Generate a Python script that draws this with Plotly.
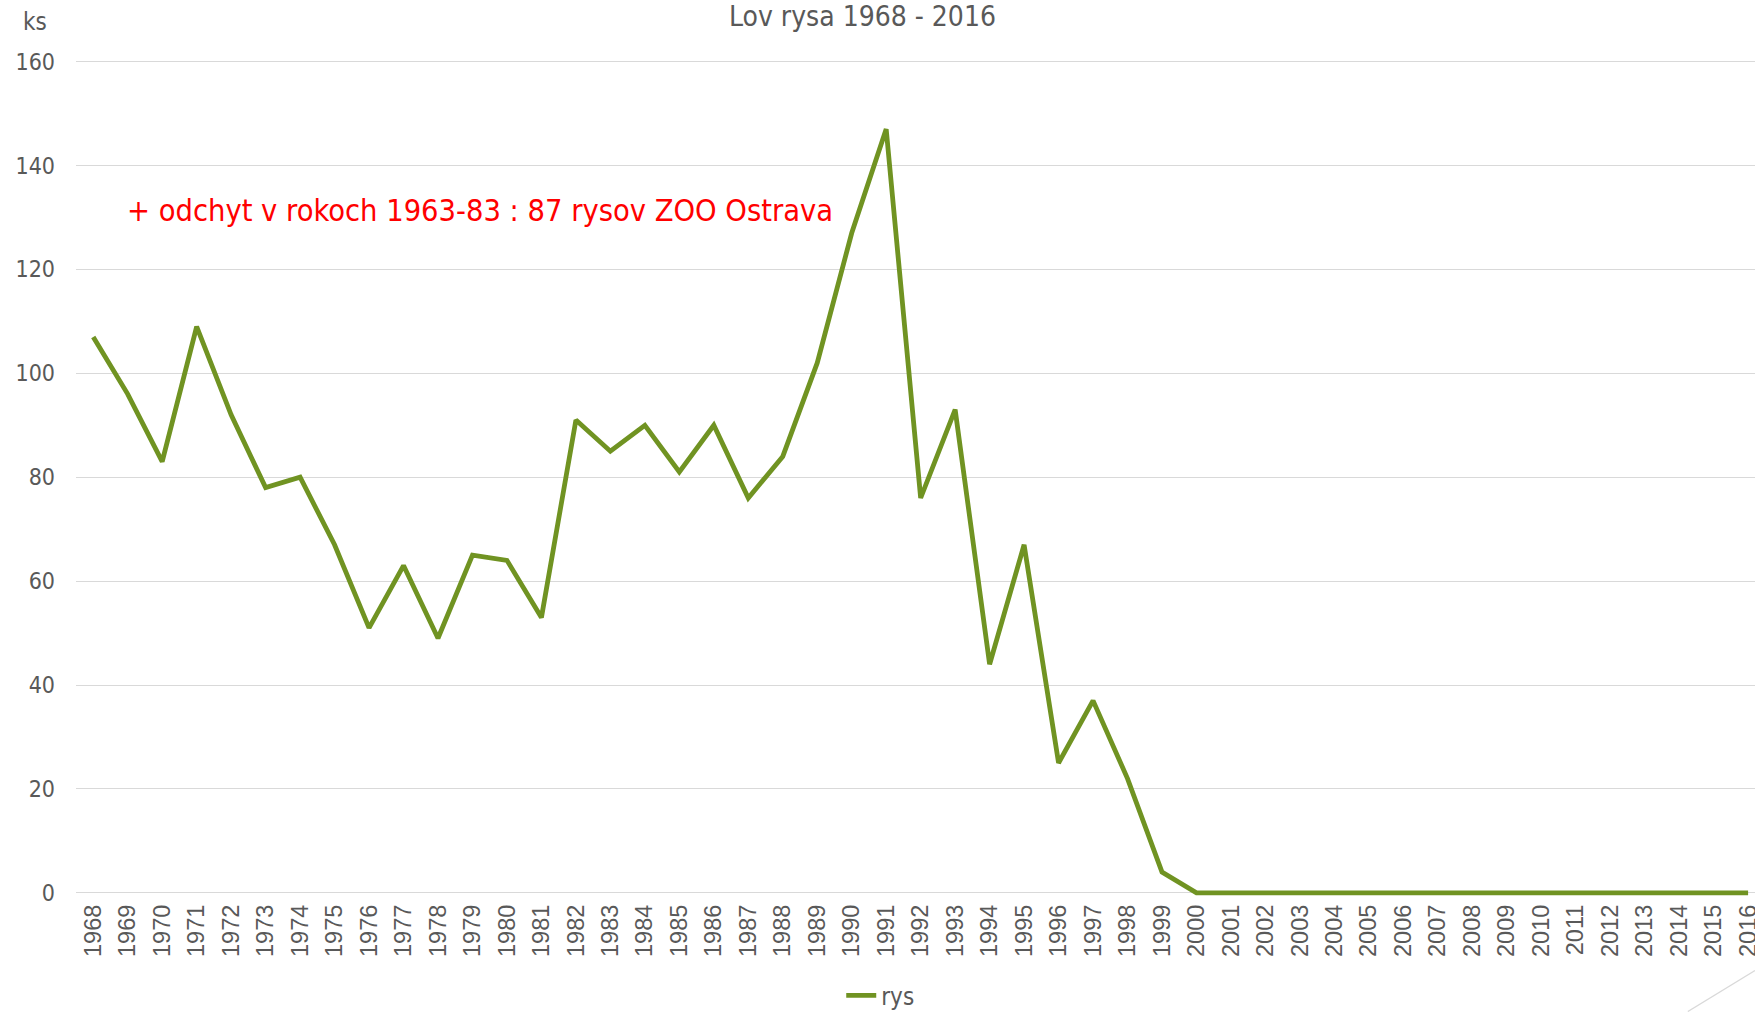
import plotly.graph_objects as go

years = [str(y) for y in range(1968, 2017)]
rys = [107, 96, 83, 109, 92, 78, 80, 67, 51, 63, 49, 65, 64, 53, 91, 85, 90, 81, 90, 76,
       84, 102, 127, 147, 76, 93, 44, 67, 25, 37, 22, 4] + [0] * 17
y_ticks = [0, 20, 40, 60, 80, 100, 120, 140, 160]

title_text = "Lov rysa 1968 - 2016"
note_text = "+ odchyt v rokoch 1963-83 : 87 rysov ZOO Ostrava"
unit_text = "ks"
series_name = "rys"

FONT = "DejaVu Sans Condensed, DejaVu Sans, sans-serif"
GREY = "#595959"

fig = go.Figure()
fig.add_trace(go.Scatter(
    x=years, y=rys, mode="lines", name=series_name,
    line=dict(color="#709322", width=4.8, shape="linear"),
))

fig.update_layout(
    width=1755, height=1012,
    margin=dict(l=76, r=0, t=60.1, b=115.6),
    paper_bgcolor="white", plot_bgcolor="white",
    showlegend=True,
    legend=dict(orientation="h", xref="paper", x=0.479, xanchor="center",
                yref="container", y=0.016, yanchor="middle",
                font=dict(family=FONT, size=24, color=GREY)),
    xaxis=dict(type="category", range=[-0.5, 48.2], tickangle=-90,
               tickfont=dict(family="Liberation Sans, Arial, sans-serif", size=23.5, color=GREY),
               showgrid=False, showline=False, zeroline=False, ticks="",
               ticklabelstandoff=3, automargin=False),
    yaxis=dict(range=[-0.6, 160.3], tickvals=y_ticks, ticktext=[str(v) for v in y_ticks],
               tickfont=dict(family=FONT, size=23, color=GREY),
               showgrid=True, gridcolor="#d9d9d9", gridwidth=1.3, zeroline=False,
               showline=False, ticks="", ticklabelstandoff=20, automargin=False),
    annotations=[
        dict(text=title_text, xref="paper", yref="paper", x=0.4687, y=1.0525,
             xanchor="center", yanchor="middle", showarrow=False,
             font=dict(family=FONT, size=28, color=GREY)),
        dict(text=unit_text, xref="paper", yref="paper", x=-0.0247, y=1.0456,
             xanchor="center", yanchor="middle", showarrow=False,
             font=dict(family=FONT, size=24, color=GREY)),
        dict(text=note_text, xref="paper", yref="paper", x=0.2406, y=0.8196,
             xanchor="center", yanchor="middle", showarrow=False,
             font=dict(family=FONT, size=30.5, color="#ff0000")),
    ],
    shapes=[
        dict(type="line", xref="paper", yref="paper", x0=1.0, y0=-0.0892, x1=0.960, y1=-0.1382,
             line=dict(color="#d9d9d9", width=1.3)),
    ],
)

fig.write_html("out.html", config={"displayModeBar": False},
               post_script="document.body.style.margin='0';document.body.style.overflow='hidden';")
